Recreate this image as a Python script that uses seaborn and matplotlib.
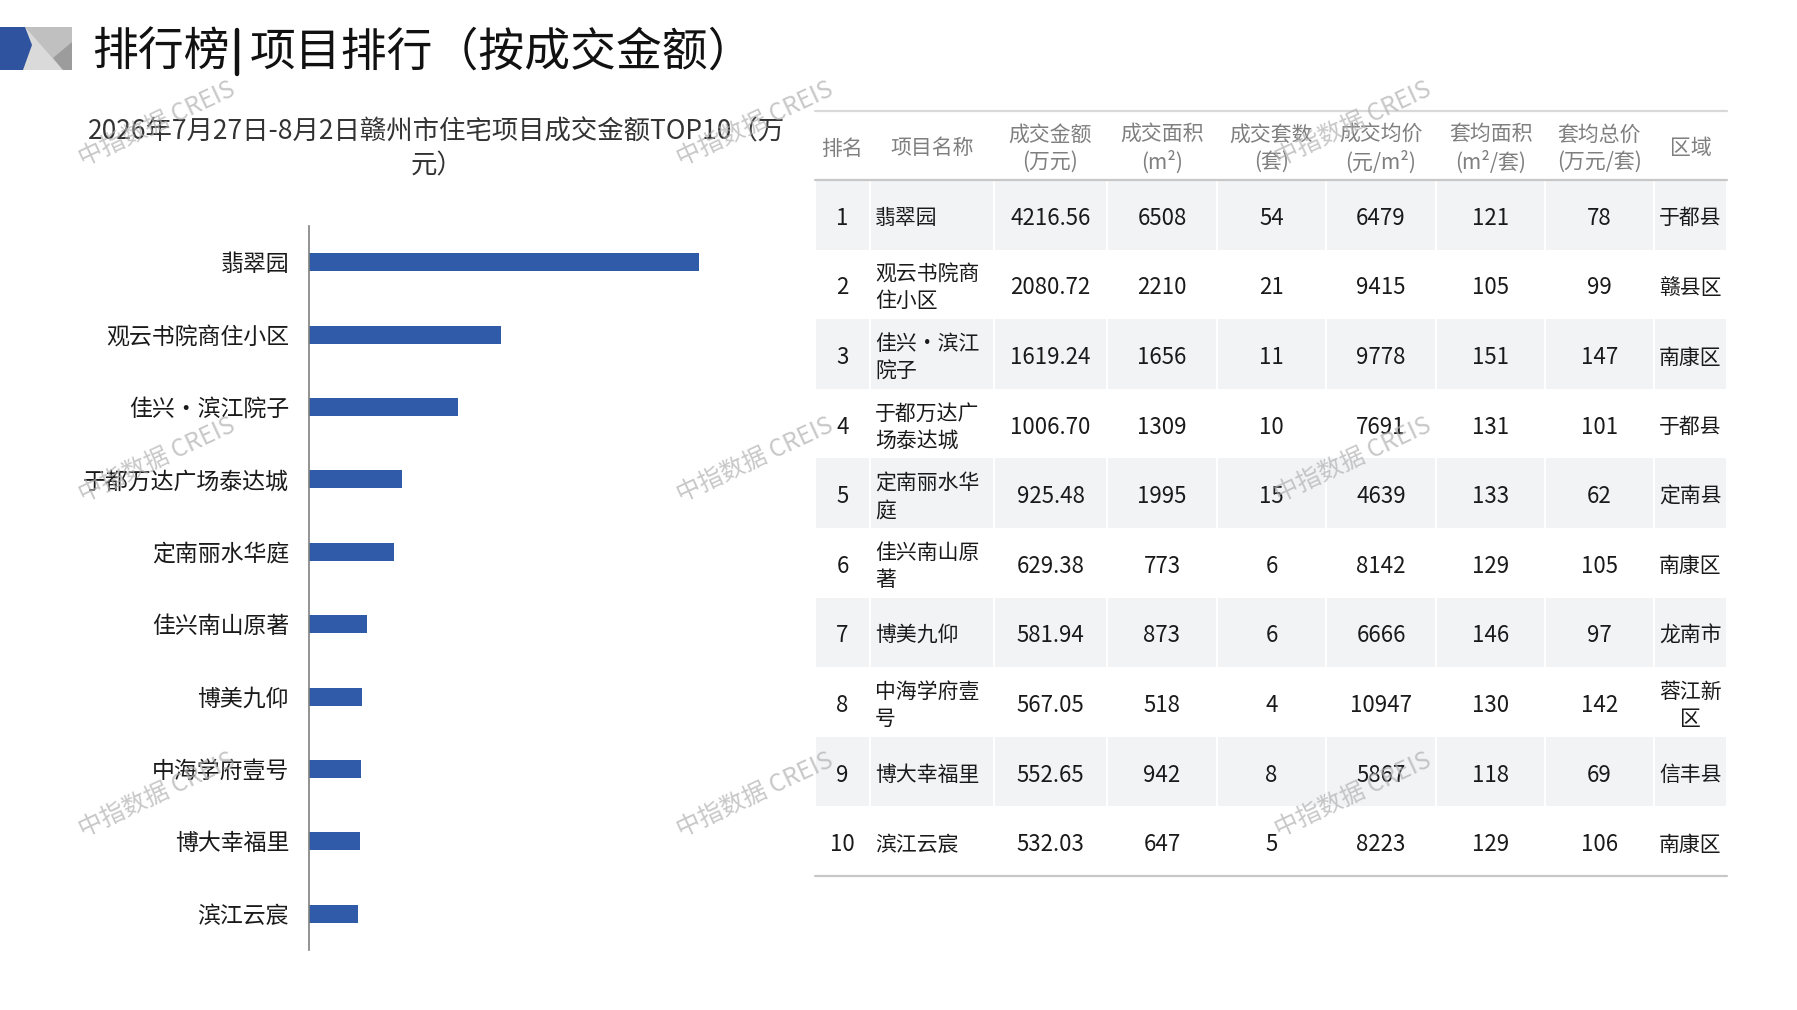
import matplotlib
matplotlib.use("Agg")
import matplotlib.pyplot as plt
from matplotlib.patches import Polygon, Rectangle
import numpy as np
import pandas as pd
import seaborn as sns

# Datos del ranking
names = ["翡翠园", "观云书院商住小区", "佳兴·滨江院子", "于都万达广场泰达城", "定南丽水华庭",
         "佳兴南山原著", "博美九仰", "中海学府壹号", "博大幸福里", "滨江云宸"]
table_names = ["翡翠园", "观云书院商\n住小区", "佳兴·滨江\n院子", "于都万达广\n场泰达城", "定南丽水华\n庭",
               "佳兴南山原\n著", "博美九仰", "中海学府壹\n号", "博大幸福里", "滨江云宸"]
ranks = [1, 2, 3, 4, 5, 6, 7, 8, 9, 10]
amounts = [4216.56, 2080.72, 1619.24, 1006.70, 925.48, 629.38, 581.94, 567.05, 552.65, 532.03]
areas = [6508, 2210, 1656, 1309, 1995, 773, 873, 518, 942, 647]
units = [54, 21, 11, 10, 15, 6, 6, 4, 8, 5]
prices = [6479, 9415, 9778, 7691, 4639, 8142, 6666, 10947, 5867, 8223]
avg_area = [121, 105, 151, 131, 133, 129, 146, 130, 118, 129]
avg_total = [78, 99, 147, 101, 62, 105, 97, 142, 69, 106]
districts = ["于都县", "赣县区", "南康区", "于都县", "定南县", "南康区", "龙南市", "蓉江新\n区", "信丰县", "南康区"]
headers = ["排名", "项目名称", "成交金额\n(万元)", "成交面积\n(m²)", "成交套数\n(套)", "成交均价\n(元/m²)",
           "套均面积\n(m²/套)", "套均总价\n(万元/套)", "区域"]

title_left = "排行榜"
title_right = "项目排行（按成交金额）"
subtitle = "2026年7月27日-8月2日赣州市住宅项目成交金额TOP10（万\n元）"
watermark = "中指数据 CREIS"

W, H = 1797, 1010
BLUE = "#2f5ba8"
FONT = ["Noto Sans CJK SC", "DejaVu Sans"]


def box(x0, y0, x1, y1):
    return [x0 / W, 1 - y1 / H, (x1 - x0) / W, (y1 - y0) / H]


def main():
    sns.set_style("white")
    plt.rcParams["font.family"] = FONT

    fig = plt.figure(figsize=(W / 100, H / 100), dpi=100)

    # Capa de fondo en coordenadas de píxel
    bg = fig.add_axes([0, 0, 1, 1])
    bg.set_xlim(0, W)
    bg.set_ylim(H, 0)
    bg.axis("off")

    # Logo
    bg.add_patch(Rectangle((0, 27), 72, 43, color="#c0c0c0", lw=0))
    bg.add_patch(Polygon([(25, 27), (63, 70), (0, 70)], color="#dadada", lw=0))
    bg.add_patch(Polygon([(72, 42), (53, 58), (63, 70), (72, 70)], color="#9c9c9c", lw=0))
    bg.add_patch(Polygon([(0, 27), (25, 27), (32, 45), (23, 70), (0, 70)], color="#3053a0", lw=0))

    # Título con barra separadora
    bg.text(92, 52, title_left, fontsize=33, va="center", ha="left", color="#111111")
    bg.plot([237, 237], [30, 74], color="#111111", lw=3.2)
    bg.text(250, 52, title_right, fontsize=33, va="center", ha="left", color="#111111")

    fig.text(437 / W, 1 - 149 / H, subtitle, fontsize=19, va="center", ha="center",
             color="#333333", linespacing=1.3)

    # Tabla
    col_edges = [815, 870, 994, 1107, 1217, 1326, 1436, 1545, 1654, 1727]
    head_top, head_bot, row_h = 111, 180, 69.6
    centers = [(a + b) / 2 for a, b in zip(col_edges[:-1], col_edges[1:])]

    for i in range(len(ranks)):
        y0 = head_bot + i * row_h
        if i % 2 == 0:
            for j in range(len(col_edges) - 1):
                bg.add_patch(Rectangle((col_edges[j] + 1, y0), col_edges[j + 1] - col_edges[j] - 2,
                                       row_h, color="#f2f3f5", lw=0))
        yc = y0 + row_h / 2 + 3.5
        row = [str(ranks[i]), table_names[i], f"{amounts[i]:.2f}", str(areas[i]), str(units[i]),
               str(prices[i]), str(avg_area[i]), str(avg_total[i]), districts[i]]
        for j, val in enumerate(row):
            if j == 1:
                bg.text(875, yc, val, ha="left", va="center", fontsize=15, color="#1a1a1a",
                        linespacing=1.3)
            else:
                bg.text(centers[j], yc, val, ha="center", va="center",
                        fontsize=15 if j == 8 else 16, color="#1a1a1a", linespacing=1.3)

    for j, h in enumerate(headers):
        bg.text(centers[j], (head_top + head_bot) / 2 + 3, h, ha="center", va="center",
                fontsize=15, color="#7f7f7f", linespacing=1.3)

    bottom = head_bot + len(ranks) * row_h
    bg.plot([col_edges[0], col_edges[-1]], [head_top, head_top], color="#d9d9d9", lw=1.6)
    bg.plot([col_edges[0], col_edges[-1]], [head_bot, head_bot], color="#c8c8c8", lw=1.6)
    bg.plot([col_edges[0], col_edges[-1]], [bottom, bottom], color="#c8c8c8", lw=1.6)

    # Gráfico de barras
    ax = fig.add_axes(box(308.5, 226, 699, 950))
    ax.patch.set_alpha(0)
    df = pd.DataFrame({"name": names, "amount": amounts})
    sns.barplot(data=df, x="amount", y="name", orient="h", color=BLUE, width=0.25,
                saturation=1, linewidth=0, ax=ax)
    ax.set_xlim(0, max(amounts))
    ax.set_ylim(len(names) - 0.5, -0.5)
    ax.set_xlabel("")
    ax.set_ylabel("")
    ax.xaxis.set_visible(False)
    for s in ["top", "right", "bottom"]:
        ax.spines[s].set_visible(False)
    ax.spines["left"].set_color("#808080")
    ax.spines["left"].set_linewidth(1.2)
    ax.set_yticks(np.arange(-0.5, len(names), 1), minor=True)
    ax.tick_params(axis="y", which="major", length=0, pad=14, labelsize=16.5, labelcolor="#1a1a1a")
    ax.tick_params(axis="y", which="minor", length=4, width=1.2, direction="in", color="#808080")

    # Marcas de agua
    for wy in [124, 460, 795]:
        for wx in [157, 755, 1353]:
            fig.text(wx / W, 1 - wy / H, watermark, fontsize=17.5, color="#b0b0b0", alpha=0.7,
                     rotation=25, ha="center", va="center", rotation_mode="anchor", zorder=10)

    fig.savefig("out.png", dpi=100)
    plt.close(fig)


if __name__ == "__main__":
    main()
